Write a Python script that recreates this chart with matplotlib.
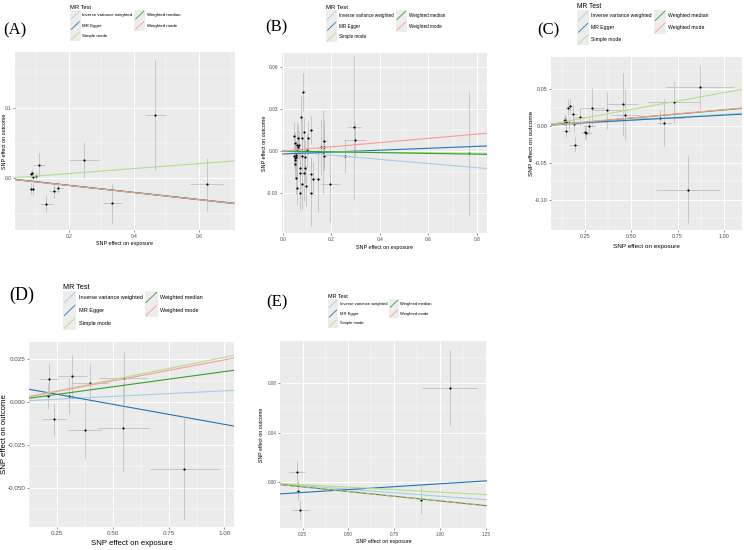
import numpy as np
import matplotlib
matplotlib.use("Agg")
import matplotlib.pyplot as plt
from matplotlib.lines import Line2D
from matplotlib.patches import Rectangle
from matplotlib.legend_handler import HandlerBase
from matplotlib.ticker import AutoMinorLocator

plt.rcParams['font.family'] = ['Liberation Sans', 'DejaVu Sans']

W, H = 744, 550

methods = ['Inverse variance weighted', 'MR Egger', 'Simple mode',
           'Weighted median', 'Weighted mode']
method_colors = ['#A6CEE3', '#1F78B4', '#B2DF8A', '#33A02C', '#FB9A99']

# ---- panel A ----
a_x = [0.466, 0.246, 0.624, 0.334, 0.167, 0.155, 0.130, 0.108, 0.098, 0.088, 0.086, 0.083, 0.083, 0.088]
a_y = [0.0896, 0.026, -0.0085, -0.0344, -0.0132, -0.018, -0.036, 0.0189, 0.0033, 0.0024, 0.008, 0.006, -0.0146, -0.0156]
a_xe = [0.032, 0.046, 0.051, 0.029, 0.015, 0.015, 0.020, 0.018, 0.008, 0.006, 0.006, 0.005, 0.006, 0.006]
a_ye = [0.078, 0.025, 0.037, 0.028, 0.008, 0.010, 0.012, 0.017, 0.006, 0.006, 0.006, 0.005, 0.008, 0.008]
a_icpt = [0, 0.0005, 0, 0, 0]
a_slope = [-0.050, -0.051, 0.035, -0.0495, -0.050]

# ---- panel B ----
b_x = [0.768, 0.2945, 0.297, 0.256, 0.196, 0.168, 0.171, 0.166, 0.171, 0.159,
       0.145, 0.125, 0.116, 0.114, 0.114, 0.104, 0.100, 0.096, 0.090, 0.090,
       0.086, 0.084, 0.086, 0.079, 0.079, 0.075, 0.077, 0.070, 0.070, 0.070,
       0.063, 0.066, 0.059, 0.062, 0.059, 0.056, 0.053, 0.055, 0.048, 0.045,
       0.048, 0.048, 0.044, 0.052, 0.051]
b_y = [-0.0017, 0.0169, 0.0079, -0.0036, -0.0236, 0.0030, 0.0072, -0.0010, -0.0036, 0.0026,
       -0.0203, -0.0196, -0.0165, -0.0296, 0.0150, 0.0095, 0.0007, -0.0250, -0.0043, -0.0124,
       0.0138, 0.0422, -0.0160, -0.0036, -0.0232, 0.0243, 0.0095, -0.0160, -0.0300, -0.0124,
       0.0090, 0.0043, 0.0007, 0.0030, -0.0263, 0.0043, -0.0040, -0.0189, -0.0053, 0.0107,
       0.0055, -0.0093, -0.0036, -0.0029, -0.0064]
b_xe = [0.008, 0.026, 0.045, 0.020, 0.038, 0.012, 0.010, 0.010, 0.010, 0.010,
        0.010, 0.008, 0.008, 0.008, 0.008, 0.006, 0.006, 0.006, 0.006, 0.006,
        0.005, 0.005, 0.005, 0.005, 0.005, 0.005, 0.005, 0.004, 0.004, 0.004,
        0.004, 0.004, 0.004, 0.004, 0.004, 0.003, 0.003, 0.003, 0.003, 0.003,
        0.003, 0.003, 0.003, 0.003, 0.003]
b_ye = [0.0436, 0.051, 0.012, 0.012, 0.027, 0.015, 0.015, 0.030, 0.010, 0.020,
        0.023, 0.012, 0.012, 0.024, 0.010, 0.012, 0.012, 0.014, 0.012, 0.010,
        0.010, 0.0135, 0.020, 0.012, 0.018, 0.015, 0.014, 0.018, 0.012, 0.012,
        0.010, 0.010, 0.020, 0.008, 0.012, 0.012, 0.010, 0.012, 0.010, 0.010,
        0.008, 0.010, 0.008, 0.010, 0.008]
b_icpt = [0, -0.0021, 0, 0, 0]
b_slope = [-0.0148, 0.0068, -0.002, -0.0028, 0.0151]

# ---- panel C ----
c_x = [0.871, 0.730, 0.654, 0.679, 0.808, 0.453, 0.467, 0.367, 0.288, 0.223, 0.186, 0.185,
       0.168, 0.155, 0.141, 0.147, 0.147, 0.159, 0.192, 0.255, 0.250, 0.272, 0.136]
c_y = [0.0534, 0.0330, 0.0118, 0.0045, -0.0860, 0.0299, 0.0158, 0.0217, 0.0253, 0.0127, 0.0027, 0.0172,
       0.0280, 0.0253, 0.0081, 0.0060, -0.0063, 0.0045, -0.0249, -0.0086, -0.0077, 0.0000, 0.0070]
c_xe = [0.185, 0.140, 0.130, 0.040, 0.175, 0.085, 0.080, 0.080, 0.068, 0.030, 0.025, 0.020,
        0.015, 0.015, 0.015, 0.015, 0.020, 0.020, 0.030, 0.030, 0.020, 0.035, 0.010]
c_ye = [0.030, 0.029, 0.010, 0.032, 0.045, 0.043, 0.035, 0.025, 0.026, 0.012, 0.010, 0.012,
        0.010, 0.012, 0.008, 0.008, 0.008, 0.008, 0.010, 0.010, 0.010, 0.012, 0.006]
c_icpt = [0, 0.0015, 0, 0, 0]
c_slope = [0.016, 0.0135, 0.0455, 0.022, 0.0225]

# ---- panel D ----
d_x = [0.820, 0.546, 0.549, 0.397, 0.374, 0.319, 0.304, 0.213, 0.207, 0.235]
d_y = [-0.0388, -0.0151, 0.0140, 0.0112, -0.0165, 0.0149, 0.0035, 0.0136, 0.0035, -0.0101]
d_xe = [0.155, 0.115, 0.110, 0.080, 0.075, 0.063, 0.020, 0.043, 0.010, 0.054]
d_ye = [0.0296, 0.0259, 0.0150, 0.0110, 0.0168, 0.0124, 0.0102, 0.0090, 0.0078, 0.0089]
d_icpt = [0, 0.0103, 0, 0, 0]
d_slope = [0.0065, -0.0233, 0.026, 0.0177, 0.0245]

# ---- panel E ----
e_x = [1.054, 0.897, 0.217, 0.2245, 0.237]
e_y = [0.0760, -0.0142, 0.0078, -0.0067, -0.0222]
e_xe = [0.150, 0.005, 0.043, 0.010, 0.045]
e_ye = [0.0308, 0.0114, 0.0096, 0.0080, 0.0071]
e_icpt = [0, -0.0106, 0, 0, 0]
e_slope = [-0.0113, 0.0093, -0.008, -0.0151, -0.0151]


class AblineKey(HandlerBase):
    # grey ggplot-style key with a diagonal line
    def create_artists(self, legend, orig_handle, xdescent, ydescent,
                       width, height, fontsize, trans):
        x0, y0 = -xdescent, -ydescent
        bg = Rectangle((x0, y0), width, height, facecolor='#EDEDED',
                       edgecolor='none', transform=trans)
        ln = Line2D([x0 + 1, x0 + width - 1], [y0 + 1, y0 + height - 1],
                    color=orig_handle.get_color(), lw=0.6, transform=trans)
        return [bg, ln]


fig = plt.figure(figsize=(W / 100, H / 100), dpi=100)


def draw_panel(tag, box, x, y, xe, ye, icpt, slope, lay):
    l, t, r, b = box
    ax = fig.add_axes([l / W, 1 - b / H, (r - l) / W, (b - t) / H])
    ax.set_facecolor('#EBEBEB')
    for s in ax.spines.values():
        s.set_visible(False)
    ax.errorbar(x, y, xerr=xe, yerr=ye, fmt='none', ecolor='#B8B8B8',
                elinewidth=0.5, capsize=0, zorder=2)
    ax.scatter(x, y, s=2.5, color='black', zorder=3, linewidths=0)
    lines = []
    for m, c, a0, k in zip(methods, method_colors, icpt, slope):
        ls = (0, (3, 3)) if (tag == 'E' and m == 'Weighted mode') else '-'
        ln = ax.axline((0, a0), slope=k, color=c, lw=0.8, ls=ls, label=m, zorder=4)
        lines.append(ln)
    ax.set_xlim(*lay['xlim'])
    ax.set_ylim(*lay['ylim'])
    ax.set_xticks(lay['xticks'])
    ax.set_xticklabels(lay['xticklabels'])
    ax.set_yticks(lay['yticks'])
    ax.set_yticklabels(lay['yticklabels'])
    ax.xaxis.set_minor_locator(AutoMinorLocator(2))
    ax.yaxis.set_minor_locator(AutoMinorLocator(2))
    ax.grid(which='major', color='white', lw=0.7)
    ax.grid(which='minor', color='white', lw=0.35)
    ax.set_axisbelow(True)
    ax.tick_params(which='major', length=1.5, width=0.4, color='#333333',
                   labelsize=lay['tick_fs'], labelcolor='#4D4D4D', pad=1.2)
    ax.tick_params(which='minor', length=0)
    ax.set_xlabel('SNP effect on exposure', fontsize=lay['lab_fs'], color='black')
    ax.set_ylabel('SNP effect on outcome', fontsize=lay['lab_fs'], color='black')
    ax.xaxis.set_label_coords(0.5, (b - lay['xlab_top']) / (b - t))
    ax.yaxis.set_label_coords((lay['ylab_right'] - l) / (r - l), 0.5)

    # legend above the panel
    lx, ly, fs = lay['legend']
    fig.legend(lines, methods, ncol=2, title='MR Test', loc='upper left',
               bbox_to_anchor=(lx / W, 1 - ly / H), frameon=False,
               fontsize=fs, title_fontsize=fs * 1.3, alignment='left',
               handler_map={Line2D: AblineKey()}, handlelength=2.4,
               handleheight=3.2, labelspacing=0.0, handletextpad=0.4,
               columnspacing=0.4, borderpad=0, borderaxespad=0)
    px, py, pfs = lay['tag']
    fig.text(px / W, 1 - py / H, '(' + tag + ')', ha='left', va='center',
             fontsize=pfs, family=['Liberation Serif', 'DejaVu Serif'])
    return ax


layouts = {
    'A': dict(xlim=(0.034, 0.711), ylim=(-0.073, 0.179),
              xticks=[0.2, 0.4, 0.6], xticklabels=['0.2', '0.4', '0.6'],
              yticks=[0.0, 0.1], yticklabels=['0.0', '0.1'],
              tick_fs=3.5, lab_fs=3.9, xlab_top=241, ylab_right=7,
              legend=(70, 5, 3.2), tag=(3, 30, 12)),
    'B': dict(xlim=(-0.004, 0.842), ylim=(-0.0585, 0.070),
              xticks=[0.0, 0.2, 0.4, 0.6, 0.8],
              xticklabels=['0.0', '0.2', '0.4', '0.6', '0.8'],
              yticks=[-0.03, 0.0, 0.03, 0.06],
              yticklabels=['-0.03', '0.00', '0.03', '0.06'],
              tick_fs=3.5, lab_fs=3.9, xlab_top=245, ylab_right=267,
              legend=(326, 5, 3.35), tag=(265, 27, 12)),
    'C': dict(xlim=(0.063, 1.10), ylim=(-0.141, 0.094),
              xticks=[0.25, 0.50, 0.75, 1.00],
              xticklabels=['0.25', '0.50', '0.75', '1.00'],
              yticks=[-0.10, -0.05, 0.00, 0.05],
              yticklabels=['-0.10', '-0.05', '0.00', '0.05'],
              tick_fs=4.0, lab_fs=4.6, xlab_top=244, ylab_right=534,
              legend=(577, 3, 3.66), tag=(537, 30, 12)),
    'D': dict(xlim=(0.124, 1.043), ylim=(-0.0727, 0.0349),
              xticks=[0.25, 0.50, 0.75, 1.00],
              xticklabels=['0.25', '0.50', '0.75', '1.00'],
              yticks=[-0.050, -0.025, 0.000, 0.025],
              yticklabels=['-0.050', '-0.025', '0.000', '0.025'],
              tick_fs=4.5, lab_fs=5.6, xlab_top=540, ylab_right=8,
              legend=(63, 284, 4.0), tag=(9, 295, 13)),
    'E': dict(xlim=(0.126, 1.257), ylim=(-0.0369, 0.1137),
              xticks=[0.25, 0.50, 0.75, 1.00, 1.25],
              xticklabels=['0.25', '0.50', '0.75', '1.00', '1.25'],
              yticks=[0.00, 0.04, 0.08],
              yticklabels=['0.00', '0.04', '0.08'],
              tick_fs=3.3, lab_fs=3.8, xlab_top=539, ylab_right=264,
              legend=(328, 294, 3.0), tag=(266, 302, 12)),
}

draw_panel('A', (15, 52, 235, 230), a_x, a_y, a_xe, a_ye, a_icpt, a_slope, layouts['A'])
draw_panel('B', (282, 53, 487, 233), b_x, b_y, b_xe, b_ye, b_icpt, b_slope, layouts['B'])
draw_panel('C', (551, 57, 742, 230), c_x, c_y, c_xe, c_ye, c_icpt, c_slope, layouts['C'])
draw_panel('D', (29, 342, 234, 527), d_x, d_y, d_xe, d_ye, d_icpt, d_slope, layouts['D'])
draw_panel('E', (280, 341, 487, 528), e_x, e_y, e_xe, e_ye, e_icpt, e_slope, layouts['E'])

fig.savefig('out.png', dpi=100, facecolor='white')
